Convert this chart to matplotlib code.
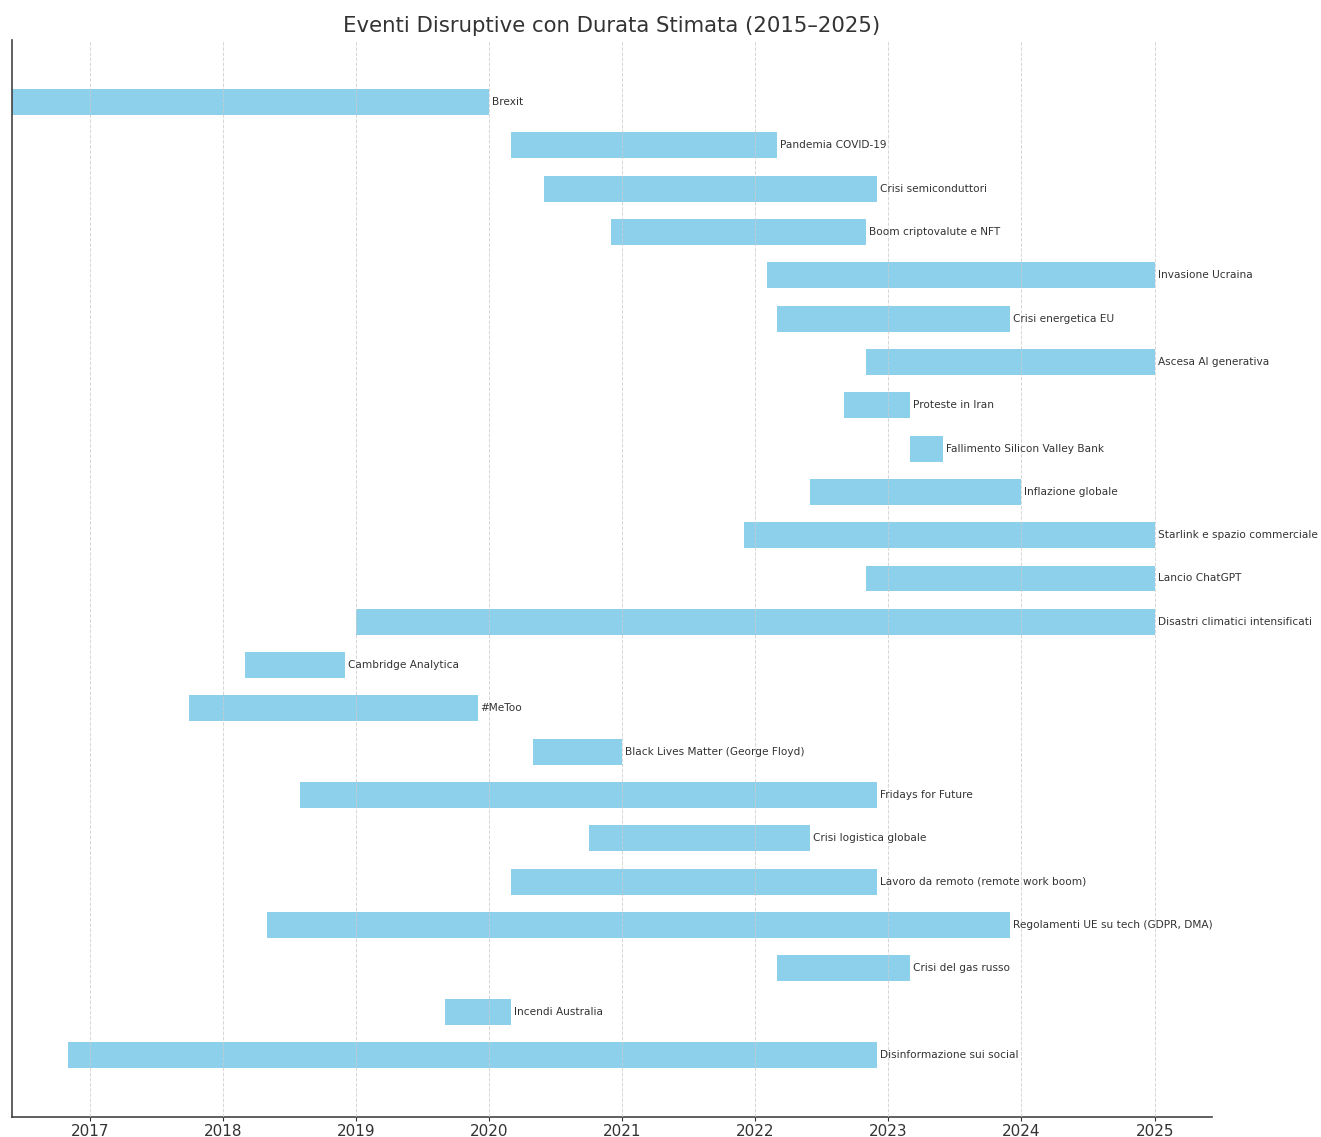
import pandas as pd
import matplotlib
matplotlib.use("Agg")
import matplotlib.pyplot as plt
import matplotlib.dates as mdates

EVENTS = [
    "Brexit",
    "Pandemia COVID-19",
    "Crisi semiconduttori",
    "Boom criptovalute e NFT",
    "Invasione Ucraina",
    "Crisi energetica EU",
    "Ascesa AI generativa",
    "Proteste in Iran",
    "Fallimento Silicon Valley Bank",
    "Inflazione globale",
    "Starlink e spazio commerciale",
    "Lancio ChatGPT",
    "Disastri climatici intensificati",
    "Cambridge Analytica",
    "#MeToo",
    "Black Lives Matter (George Floyd)",
    "Fridays for Future",
    "Crisi logistica globale",
    "Lavoro da remoto (remote work boom)",
    "Regolamenti UE su tech (GDPR, DMA)",
    "Crisi del gas russo",
    "Incendi Australia",
    "Disinformazione sui social",
]
STARTS = [
    "2016-06-01", "2020-03-01", "2020-06-01", "2020-12-01", "2022-02-01",
    "2022-03-01", "2022-11-01", "2022-09-01", "2023-03-01", "2022-06-01",
    "2021-12-01", "2022-11-01", "2019-01-01", "2018-03-01", "2017-10-01",
    "2020-05-01", "2018-08-01", "2020-10-01", "2020-03-01", "2018-05-01",
    "2022-03-01", "2019-09-01", "2016-11-01",
]
ENDS = [
    "2020-01-01", "2022-03-01", "2022-12-01", "2022-11-01", "2025-01-01",
    "2023-12-01", "2025-01-01", "2023-03-01", "2023-06-01", "2024-01-01",
    "2025-01-01", "2025-01-01", "2025-01-01", "2018-12-01", "2019-12-01",
    "2021-01-01", "2022-12-01", "2022-06-01", "2022-12-01", "2023-12-01",
    "2023-03-01", "2020-03-01", "2022-12-01",
]


def main():
    df = pd.DataFrame({"evento": EVENTS,
                       "inizio": pd.to_datetime(STARTS),
                       "fine": pd.to_datetime(ENDS)})
    df["durata"] = df["fine"] - df["inizio"]

    fig = plt.figure(figsize=(13.21, 11.37), dpi=100)
    ax = fig.add_axes([12 / 1321, 1 - 1117 / 1137, 1200 / 1321, 1077 / 1137])

    ax.barh(range(len(df)), df["durata"], left=df["inizio"], height=0.6,
            color="skyblue", alpha=0.95, zorder=2)
    for i, row in df.iterrows():
        ax.text(row["fine"] + pd.Timedelta(days=8), i, row["evento"],
                va="center", ha="left", fontsize=7.6, color="#333333")

    ax.invert_yaxis()
    ax.set_yticks([])
    ax.xaxis.set_major_locator(mdates.YearLocator())
    ax.xaxis.set_major_formatter(mdates.DateFormatter("%Y"))
    ax.tick_params(axis="x", labelsize=11, colors="#333333", length=3, pad=2)
    ax.grid(axis="x", linestyle="--", color="#cccccc", linewidth=0.7, alpha=0.8, zorder=3)
    ax.set_axisbelow(False)
    for side in ("top", "right"):
        ax.spines[side].set_visible(False)
    for side in ("left", "bottom"):
        ax.spines[side].set_color("#444444")
        ax.spines[side].set_linewidth(1.2)
    ax.set_title("Eventi Disruptive con Durata Stimata (2015–2025)",
                 fontsize=15.3, color="#333333", pad=6)

    fig.savefig("out.png", dpi=100)
    plt.close(fig)


if __name__ == "__main__":
    main()
